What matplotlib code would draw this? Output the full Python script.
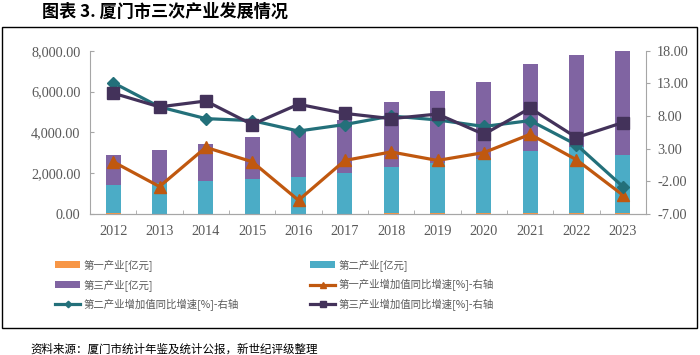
import numpy as np
import matplotlib.pyplot as plt
from matplotlib.patches import Rectangle

plt.rcParams['font.family'] = ['Noto Sans CJK SC', 'DejaVu Sans']

years = ["2012", "2013", "2014", "2015", "2016", "2017",
         "2018", "2019", "2020", "2021", "2022", "2023"]
# value added, 100 million yuan
primary = [25, 24, 24, 24, 23, 24, 26, 27, 29, 31, 31, 32]
secondary = [1420, 1480, 1580, 1700, 1780, 1990, 2290, 2480, 2680, 3070, 3270, 2880]
tertiary = [1445, 1636, 1826, 2066, 2297, 2586, 3174, 3523, 3741, 4239, 4509, 5128]
# year-on-year growth, %
g_primary = [1.0, -2.8, 3.2, 1.0, -4.9, 1.2, 2.5, 1.2, 2.4, 5.2, 1.3, -4.1]
g_secondary = [13.1, 9.4, 7.6, 7.3, 5.7, 6.7, 8.0, 7.4, 6.4, 7.3, 3.6, -2.8]
g_tertiary = [11.5, 9.4, 10.3, 6.7, 9.8, 8.4, 7.6, 8.3, 5.2, 9.2, 4.7, 7.0]

labels = ["第一产业[亿元]", "第二产业[亿元]", "第三产业[亿元]",
          "第一产业增加值同比增速[%]-右轴",
          "第二产业增加值同比增速[%]-右轴",
          "第三产业增加值同比增速[%]-右轴"]

TICK_GREY = "#595959"
SPINE_GREY = "#A6A6A6"

fig = plt.figure(figsize=(7, 3.55), dpi=100)
fig.patches.append(Rectangle((2 / 700, 1 - 328 / 355), 695 / 700, 301 / 355,
                             transform=fig.transFigure, fill=False,
                             edgecolor="black", linewidth=1.0))

ax = fig.add_axes([90 / 700, 1 - 214 / 355, 556 / 700, 163.3 / 355])
x = np.arange(len(years))
w = 0.32
p = np.array(primary)
s = np.array(secondary)
t = np.array(tertiary)
b1 = ax.bar(x, p, w, color="#F79646", label=labels[0])
b2 = ax.bar(x, s, w, bottom=p, color="#4BACC6", label=labels[1])
b3 = ax.bar(x, t, w, bottom=p + s, color="#8064A2", label=labels[2])

ax.set_ylim(0, 8000)
ax.set_yticks(np.arange(0, 8001, 2000))
ax.set_yticklabels([f"{v:,.2f}" for v in np.arange(0, 8001, 2000)])
ax.set_xlim(-0.5, len(years) - 0.5)
ax.set_xticks(x)
ax.set_xticklabels(years)
ax.set_xticks(np.arange(-0.5, len(years), 1), minor=True)
ax.tick_params(axis="x", which="major", length=0, pad=8)
ax.tick_params(axis="x", which="minor", direction="in", length=3, color=SPINE_GREY)
ax.tick_params(axis="y", direction="in", length=3, color=SPINE_GREY, pad=7)

ax2 = ax.twinx()
l1, = ax2.plot(x, g_primary, color="#C0580F", lw=2.3, marker="^", ms=8, label=labels[3])
l2, = ax2.plot(x, g_secondary, color="#23707A", lw=2.3, marker="D", ms=6, label=labels[4])
l3, = ax2.plot(x, g_tertiary, color="#43325A", lw=2.3, marker="s", ms=8, label=labels[5])
ax2.set_ylim(-7, 18)
ax2.set_yticks(np.arange(-7, 18.1, 5))
ax2.set_yticklabels([f"{v:.2f}" for v in np.arange(-7, 18.1, 5)])
ax2.tick_params(axis="y", direction="out", length=3, color=SPINE_GREY, pad=5)

for a in (ax, ax2):
    a.spines["top"].set_visible(False)
    for side in ("left", "right", "bottom"):
        a.spines[side].set_color(SPINE_GREY)
    for lab in a.get_xticklabels() + a.get_yticklabels():
        lab.set_family("Liberation Serif")
        lab.set_fontsize(10.3)
        lab.set_color(TICK_GREY)
ax2.spines["left"].set_visible(False)
ax.spines["right"].set_visible(False)

# legend filled column-wise, so reorder to match the row layout
handles = [b1, b3, l2, b2, l1, l3]
leg = fig.legend(handles, [h.get_label() for h in handles], ncol=2,
                 loc="upper left", bbox_to_anchor=(50 / 700, 1 - 254 / 355),
                 frameon=False, fontsize=7.5, handlelength=2.4,
                 handletextpad=0.3, columnspacing=6.9, labelspacing=0.75,
                 borderpad=0, markerscale=0.55)
for txt in leg.get_texts():
    txt.set_color(TICK_GREY)

fig.text(42 / 700, 1 - 12 / 355, "图表 3. 厦门市三次产业发展情况",
         fontsize=12.3, fontweight="bold", va="center", ha="left")
fig.text(30 / 700, 1 - 349 / 355, "资料来源：厦门市统计年鉴及统计公报，新世纪评级整理",
         fontsize=8.3, va="center", ha="left")

fig.savefig("out.png", dpi=100)
